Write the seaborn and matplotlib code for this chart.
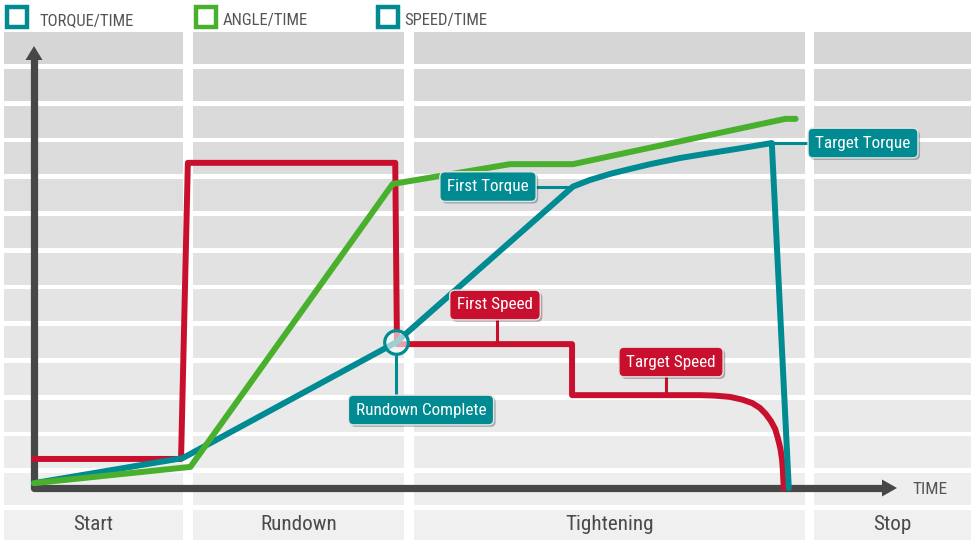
import matplotlib
matplotlib.use('Agg')
import matplotlib.pyplot as plt
import matplotlib.patheffects as pe
from matplotlib.patches import Rectangle, Polygon
import numpy as np
import seaborn as sns

# chart units: time 0-100 to the right, value 0-100 upwards
torque_time = [0, 17.5, 42.6, 63.4, 65.4, 67.8, 70.1, 72.5, 76.0, 79.5, 83.1, 86.8, 88.8]
torque_value = [1.1, 6.8, 33.1, 68.5, 70.0, 71.4, 72.5, 73.6, 75.0, 76.1, 77.2, 78.4, 0]

angle_time = [0, 18.4, 42.2, 56.0, 63.4, 88.4, 89.6]
angle_value = [1.1, 4.8, 69.1, 73.6, 73.6, 83.9, 83.9]

speed_time = [0, 17.3, 18.1, 42.5, 42.7, 63.3, 63.3, 78.4, 80.1, 81.9, 83.3, 84.5, 85.4,
              86.1, 86.7, 87.2, 87.5, 87.8, 88.0, 88.1, 88.2]
speed_value = [6.6, 6.6, 73.9, 73.9, 32.7, 32.7, 21.1, 21.1, 21.0, 20.7, 20.1, 19.3, 18.2,
               16.8, 15.2, 13.4, 11.4, 9.1, 6.6, 4.1, 0]

phases = ['Start', 'Rundown', 'Tightening', 'Stop']
legend_labels = ['TORQUE/TIME', 'ANGLE/TIME', 'SPEED/TIME']

TEAL = '#008a92'
GREEN = '#48b02c'
RED = '#c8102e'
AXIS = '#474747'

sns.set_theme(style='white')
plt.rcParams['font.family'] = ['Roboto Condensed', 'Liberation Sans Narrow', 'Roboto', 'DejaVu Sans']

W, H = 971, 540
X0, Y0 = 34, 488          # pixel position of the origin
SX, SY = 8.5, 4.4         # pixels per unit

fig = plt.figure(figsize=(W / 100, H / 100), dpi=100)
ax = fig.add_axes([0, 0, 1, 1])
ax.set_autoscale_on(False)
ax.set_xlim(-X0 / SX, (W - X0) / SX)
ax.set_ylim((Y0 - H) / SY, Y0 / SY)
ax.axis('off')


def fx(px):
    return px / W


def fy(py):
    return 1 - py / H


# grey background grid (4 phase columns x 14 rows)
cols = [(4, 183), (193, 404), (414, 805), (814, 971)]
for i in range(14):
    top = 32 + i * 36.75
    h = 32 if i < 13 else 31
    g = 0.84 + (0.94 - 0.84) * i / 13
    for (a, b) in cols:
        ax.add_patch(Rectangle((fx(a), fy(top + h)), fx(b) - fx(a), h / H,
                               transform=fig.transFigure, fc=(g, g, g + 0.003),
                               ec='none', zorder=0))

for name, (a, b) in zip(phases, cols):
    fig.text(fx((a + b) / 2), fy(525), name, ha='center', va='center',
             fontsize=15.2, color='#4a4a4a')

# legend
for (sx, tx), lab, c in zip([(17, 39), (206, 223), (388, 404)], legend_labels, [TEAL, GREEN, TEAL]):
    ax.add_patch(Rectangle((fx(sx - 10), fy(27)), 20 / W, 20 / H, transform=fig.transFigure,
                           fc='white', ec=c, lw=3.2, zorder=2))
    fig.text(fx(tx), fy(21), lab, ha='left', va='center', fontsize=12, color='#555555')

# axes with arrows
top_v = (Y0 - 60) / SY
right_t = (882 - X0) / SX
ax.plot([0, 0, right_t], [top_v, 0, 0], color=AXIS, lw=5.2, solid_joinstyle='round',
        solid_capstyle='round', zorder=3)
ax.add_patch(Polygon([(-8.5 / SX, top_v), (8.5 / SX, top_v), (0, (Y0 - 46) / SY)],
                     closed=True, fc=AXIS, ec='none', zorder=3))
ax.add_patch(Polygon([(right_t, 8.5 / SY), (right_t, -8.5 / SY), ((897 - X0) / SX, 0)],
                     closed=True, fc=AXIS, ec='none', zorder=3))
ax.text((912 - X0) / SX, -0.3, 'TIME', ha='left', va='center', fontsize=12.5, color='#555555')

# series
sns.lineplot(x=speed_time, y=speed_value, sort=False, estimator=None, color=RED, lw=4.3,
             ax=ax, solid_joinstyle='round', zorder=4)
sns.lineplot(x=torque_time, y=torque_value, sort=False, estimator=None, color=TEAL, lw=4.3,
             ax=ax, solid_joinstyle='round', zorder=4.2)
sns.lineplot(x=angle_time, y=angle_value, sort=False, estimator=None, color=GREEN, lw=4.3,
             ax=ax, solid_joinstyle='round', zorder=4.4)

# rundown complete marker
ax.plot(torque_time[2], torque_value[2], marker='o', ms=17, mfc=(1, 1, 1, 0.6),
        mec=TEAL, mew=2.3, zorder=5)


def tag(t, v, text, color):
    txt = ax.text(t, v, text, color='white', fontsize=12.3, ha='center', va='center', zorder=7,
                  bbox=dict(boxstyle='round,pad=0.43,rounding_size=0.3', fc=color,
                            ec='#e4e4e4', lw=1))
    txt.get_bbox_patch().set_path_effects(
        [pe.SimplePatchShadow(offset=(1.5, -1.5), alpha=0.3), pe.Normal()])


# connectors
ax.plot([(536 - X0) / SX, torque_time[3]], [torque_value[3]] * 2, color=TEAL, lw=2.2, zorder=3.9)
ax.plot([torque_time[11], (809 - X0) / SX], [torque_value[11]] * 2, color=TEAL, lw=2.2, zorder=3.9)
ax.plot([torque_time[2]] * 2, [torque_value[2] - 3, (Y0 - 395) / SY], color=TEAL, lw=2.2, zorder=3.9)
ax.plot([(497 - X0) / SX] * 2, [(Y0 - 320) / SY, speed_value[4]], color=RED, lw=2.2, zorder=3.9)
ax.plot([(666 - X0) / SX] * 2, [(Y0 - 377) / SY, speed_value[6]], color=RED, lw=2.2, zorder=3.9)

tag((488 - X0) / SX, torque_value[3], 'First Torque', TEAL)
tag((863 - X0) / SX, torque_value[11], 'Target Torque', TEAL)
tag((495 - X0) / SX, (Y0 - 305) / SY, 'First Speed', RED)
tag((671 - X0) / SX, (Y0 - 362) / SY, 'Target Speed', RED)
tag((421 - X0) / SX, (Y0 - 410) / SY, 'Rundown Complete', TEAL)

fig.savefig('out.png', dpi=100)
